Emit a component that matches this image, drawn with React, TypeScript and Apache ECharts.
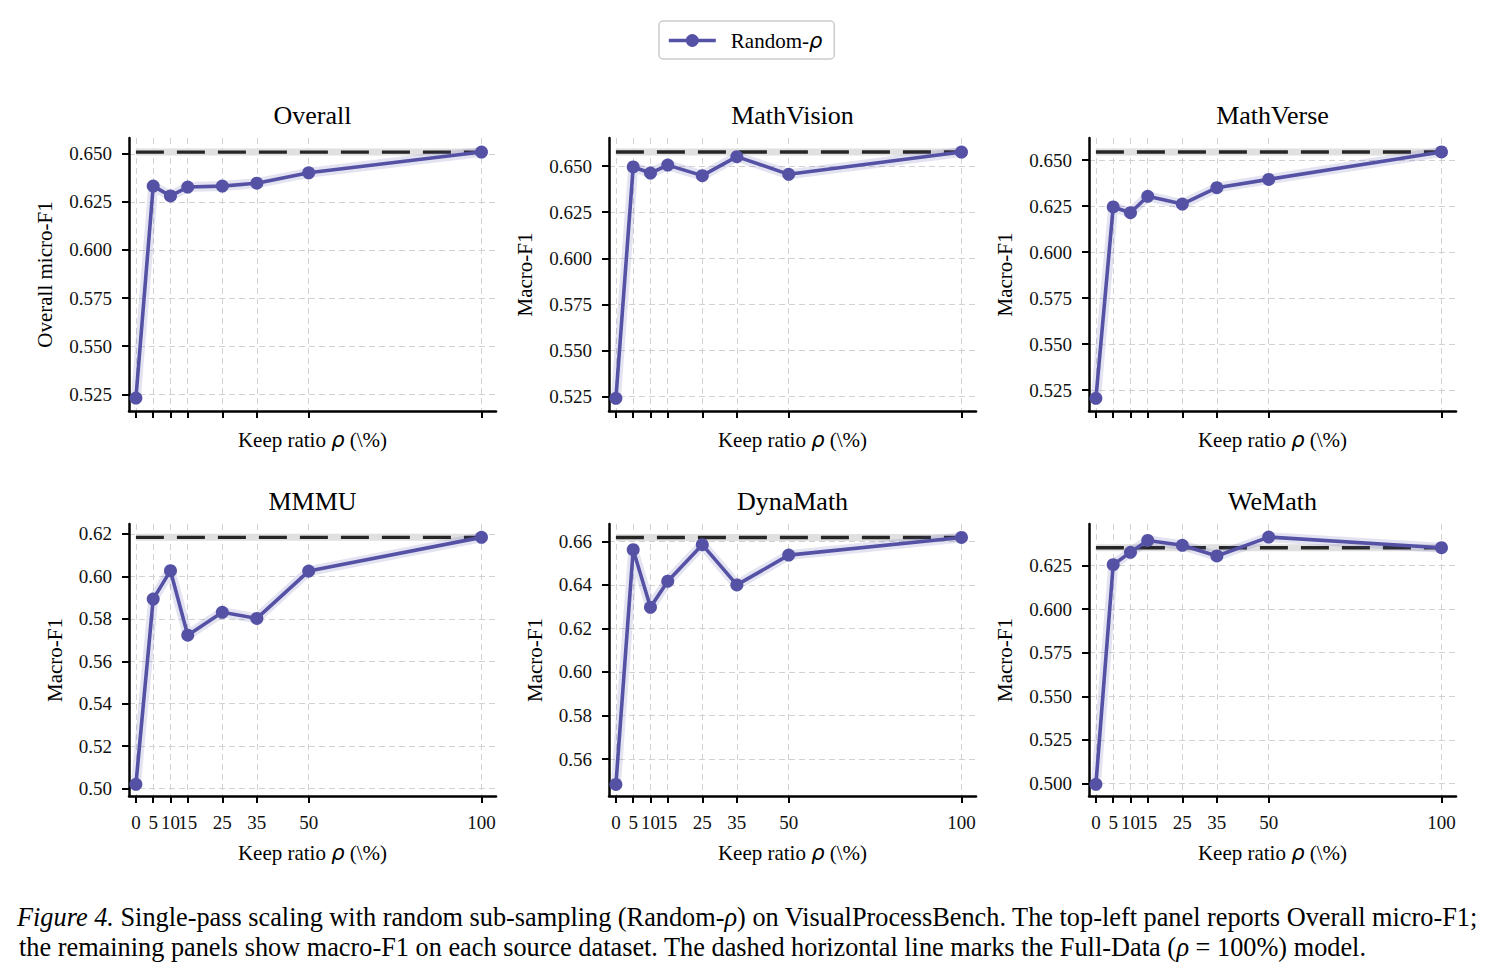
import React, { useEffect, useRef } from "react";
import * as echarts from "echarts";

// Keep ratios (x positions) shared by every panel
const KEEP_RATIOS = [0, 5, 10, 15, 25, 35, 50, 100];

const PANEL_TITLES = ["Overall", "MathVision", "MathVerse", "MMMU", "DynaMath", "WeMath"];
const Y_NAMES = ["Overall micro-F1", "Macro-F1", "Macro-F1", "Macro-F1", "Macro-F1", "Macro-F1"];

// Random-rho scores per keep ratio
const overallF1 = [0.523, 0.6332, 0.6281, 0.6327, 0.6332, 0.6347, 0.6401, 0.6509];
const mathVisionF1 = [0.5241, 0.6495, 0.6462, 0.6505, 0.6448, 0.6551, 0.6455, 0.6576];
const mathVerseF1 = [0.5205, 0.6245, 0.6214, 0.6303, 0.6261, 0.635, 0.6395, 0.6544];
const mmmuF1 = [0.502, 0.5893, 0.6027, 0.5723, 0.5831, 0.5802, 0.6025, 0.6184];
const dynaMathF1 = [0.5483, 0.6562, 0.6297, 0.6417, 0.6585, 0.64, 0.6537, 0.6618];
const weMathF1 = [0.4996, 0.6254, 0.6325, 0.6393, 0.6365, 0.6304, 0.6412, 0.6351];

const PANEL_VALUES = [overallF1, mathVisionF1, mathVerseF1, mmmuF1, dynaMathF1, weMathF1];

// Y tick labels per panel
const ticks025 = [0.525, 0.55, 0.575, 0.6, 0.625, 0.65];
const mmmuTicks = [0.5, 0.52, 0.54, 0.56, 0.58, 0.6, 0.62];
const dynaTicks = [0.56, 0.58, 0.6, 0.62, 0.64, 0.66];
const weMathTicks = [0.5, 0.525, 0.55, 0.575, 0.6, 0.625];
const Y_TICKS = [ticks025, ticks025, ticks025, mmmuTicks, dynaTicks, weMathTicks];
const Y_DECIMALS = [3, 3, 3, 2, 2, 3];

// Axis ranges
const Y_MIN = [0.5163, 0.5172, 0.5136, 0.4965, 0.543, 0.4929];
const Y_MAX = [0.6582, 0.6652, 0.662, 0.6247, 0.668, 0.6487];
const X_MIN = -2;
const X_MAX = 104.2;

const SERIF = "'Liberation Serif', 'Times New Roman', 'DejaVu Serif', serif";
const MATH = "'DejaVu Sans', sans-serif";
const PURPLE = "#5552a5";

const GRID_LEFT = [129, 609, 1089];
const GRID_TOP = [138, 524];
const GRID_W = 367;
const GRID_H = [273, 272];

const GRID_LINE = { color: "#d2d2d2", width: 1, type: [6, 4] };
const CAPTION_SIZE = 26.3;

function buildOption() {
  const grids: any[] = [];
  const xAxes: any[] = [];
  const yAxes: any[] = [];
  const series: any[] = [];
  const graphics: any[] = [];

  PANEL_VALUES.forEach((vals, i) => {
    const row = Math.floor(i / 3);
    const col = i % 3;
    const left = GRID_LEFT[col];
    const top = GRID_TOP[row];
    const h = GRID_H[row];
    grids.push({ left, top, width: GRID_W, height: h, containLabel: false });

    const bottomRow = row === 1;
    xAxes.push({
      type: "value",
      gridIndex: i,
      min: X_MIN,
      max: X_MAX,
      name: "Keep ratio {i|ρ} (\\%)",
      nameLocation: "middle",
      nameGap: bottomRow ? 46 : 18,
      nameTextStyle: {
        fontFamily: SERIF,
        fontSize: 21,
        color: "#000",
        rich: { i: { fontFamily: MATH, fontStyle: "italic", fontSize: 21, color: "#000" } },
      },
      axisLine: { show: true, onZero: false, lineStyle: { color: "#000", width: 2.5 } },
      axisTick: {
        show: true,
        customValues: KEEP_RATIOS,
        length: 7,
        lineStyle: { color: "#000", width: 2 },
      },
      axisLabel: {
        show: bottomRow,
        customValues: KEEP_RATIOS,
        margin: 17,
        fontFamily: SERIF,
        fontSize: 19,
        color: "#111",
        formatter: (v: number) => String(v),
      },
      splitLine: { show: true, lineStyle: GRID_LINE },
    });

    const dec = Y_DECIMALS[i];
    yAxes.push({
      type: "value",
      gridIndex: i,
      min: Y_MIN[i],
      max: Y_MAX[i],
      name: Y_NAMES[i],
      nameLocation: "middle",
      nameGap: dec === 3 ? 74 : 64,
      nameTextStyle: { fontFamily: SERIF, fontSize: 21, color: "#000" },
      axisLine: { show: true, onZero: false, lineStyle: { color: "#000", width: 2.5 } },
      axisTick: {
        show: true,
        customValues: Y_TICKS[i],
        length: 7,
        lineStyle: { color: "#000", width: 2 },
      },
      axisLabel: {
        customValues: Y_TICKS[i],
        margin: 17,
        fontFamily: SERIF,
        fontSize: 19,
        color: "#111",
        formatter: (v: number) => v.toFixed(dec),
      },
      splitLine: { show: true, lineStyle: GRID_LINE },
    });

    // Full-data reference (value at 100%)
    const full = vals[vals.length - 1];
    const refData = [
      [KEEP_RATIOS[0], full],
      [KEEP_RATIOS[KEEP_RATIOS.length - 1], full],
    ];
    const points = KEEP_RATIOS.map((x, j) => [x, vals[j]]);

    series.push({
      name: "fullBand",
      type: "line",
      xAxisIndex: i,
      yAxisIndex: i,
      data: refData,
      symbol: "none",
      silent: true,
      z: 1,
      lineStyle: { color: "#e0e0e0", width: 7 },
    });
    series.push({
      name: "fullData",
      type: "line",
      xAxisIndex: i,
      yAxisIndex: i,
      data: refData,
      symbol: "none",
      silent: true,
      z: 2,
      lineStyle: { color: "#262626", width: 3.3, type: [28, 13], cap: "butt" },
    });
    series.push({
      name: "halo",
      type: "line",
      xAxisIndex: i,
      yAxisIndex: i,
      data: points,
      symbol: "none",
      silent: true,
      z: 3,
      lineStyle: { color: "rgba(85,82,165,0.16)", width: 10 },
    });
    series.push({
      name: "Random-ρ",
      type: "line",
      xAxisIndex: i,
      yAxisIndex: i,
      data: points,
      symbol: "circle",
      symbolSize: 13,
      z: 4,
      lineStyle: { color: PURPLE, width: 3.6 },
      itemStyle: { color: PURPLE },
    });

    graphics.push({
      type: "text",
      x: left + GRID_W / 2,
      y: bottomRow ? 501 : 115,
      style: {
        text: PANEL_TITLES[i],
        fontFamily: SERIF,
        fontSize: 26,
        fill: "#000",
        align: "center",
        verticalAlign: "middle",
        textAlign: "center",
        textVerticalAlign: "middle",
      },
    });
  });

  const captionRich = {
    it: { fontFamily: SERIF, fontStyle: "italic", fontSize: CAPTION_SIZE, fill: "#000" },
    rho: { fontFamily: SERIF, fontStyle: "italic", fontSize: CAPTION_SIZE, fill: "#000" },
  };
  graphics.push({
    type: "text",
    left: 17,
    top: 904,
    style: {
      text:
        "{it|Figure 4.} Single-pass scaling with random sub-sampling (Random-{rho|ρ}) on VisualProcessBench. The top-left panel reports Overall micro-F1;",
      fontFamily: SERIF,
      fontSize: CAPTION_SIZE,
      fill: "#000",
      rich: captionRich,
    },
  });
  graphics.push({
    type: "text",
    left: 19,
    top: 934,
    style: {
      text:
        "the remaining panels show macro-F1 on each source dataset. The dashed horizontal line marks the Full-Data ({rho|ρ} = 100%) model.",
      fontFamily: SERIF,
      fontSize: CAPTION_SIZE,
      fill: "#000",
      rich: captionRich,
    },
  });

  return {
    animation: false,
    backgroundColor: "#fff",
    grid: grids,
    xAxis: xAxes,
    yAxis: yAxes,
    series,
    graphic: graphics,
    legend: {
      data: ["Random-ρ"],
      left: 659,
      top: 21,
      padding: [9, 12, 8, 8],
      itemWidth: 47,
      itemHeight: 16,
      borderColor: "#cccccc",
      borderWidth: 1.5,
      borderRadius: 4,
      backgroundColor: "#fff",
      lineStyle: { width: 3.6, color: PURPLE },
      formatter: () => "Random-{i|ρ}",
      textStyle: {
        fontFamily: SERIF,
        fontSize: 21,
        color: "#000",
        padding: [0, 0, 0, 10],
        rich: { i: { fontFamily: MATH, fontStyle: "italic", fontSize: 21, color: "#000" } },
      },
    },
  };
}

export default function App() {
  const ref = useRef<HTMLDivElement>(null);
  useEffect(() => {
    if (!ref.current) return;
    const chart = echarts.init(ref.current, undefined, { renderer: "svg" });
    chart.setOption(buildOption() as any);
    return () => chart.dispose();
  }, []);
  return (
    <div
      ref={ref}
      style={{ position: "absolute", left: 0, top: 0, width: 1493, height: 979, background: "#fff" }}
    />
  );
}
